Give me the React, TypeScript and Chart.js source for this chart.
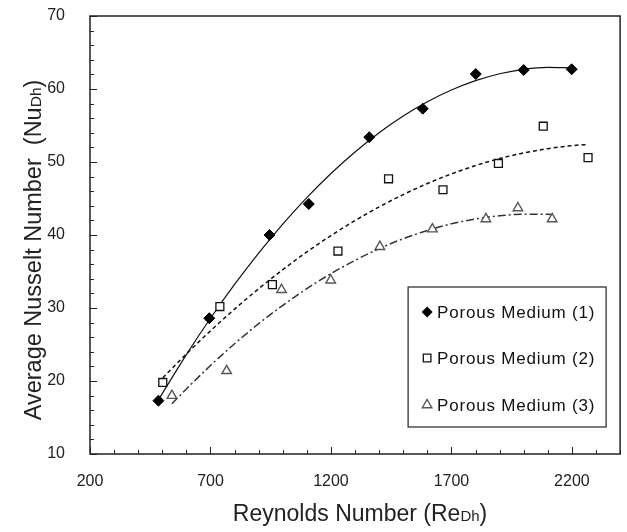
import React, { useEffect, useRef } from "react";
import { Chart, registerables } from "chart.js";

Chart.register(...registerables);

// ---- Data ----
const xTickValues = [200, 700, 1200, 1700, 2200];
const yTickValues = [10, 20, 30, 40, 50, 60, 70];

const seriesNames = ["Porous Medium (1)", "Porous Medium (2)", "Porous Medium (3)"];

const reynolds1 = [484, 695, 945, 1108, 1359, 1581, 1801, 2000, 2199];
const nusselt1 = [17.3, 28.6, 40.0, 44.25, 53.4, 57.3, 62.05, 62.6, 62.7];

const reynolds2 = [502, 739, 957, 1229, 1439, 1665, 1895, 2081, 2267];
const nusselt2 = [19.8, 30.2, 33.2, 37.8, 47.7, 46.2, 49.8, 54.9, 50.6];

const reynolds3 = [540, 767, 995, 1199, 1403, 1621, 1843, 1976, 2118];
const nusselt3 = [18.0, 21.4, 32.5, 33.8, 38.4, 40.8, 42.2, 43.7, 42.2];

// trend curves (as drawn in the reference)
const trend1X = [484, 600, 700, 800, 900, 1000, 1100, 1200, 1300, 1400, 1500, 1600, 1700, 1800, 1900, 2000, 2100, 2199];
const trend1Y = [17.43, 23.62, 28.6, 33.23, 37.53, 41.5, 45.13, 48.43, 51.38, 54.01, 56.3, 58.25, 59.86, 61.14, 62.09, 62.7, 62.97, 62.91];

const trend2X = [502, 600, 700, 800, 900, 1000, 1100, 1200, 1300, 1400, 1500, 1600, 1700, 1800, 1900, 2000, 2100, 2200, 2267];
const trend2Y = [20.44, 23.71, 26.87, 29.85, 32.64, 35.25, 37.68, 39.92, 41.98, 43.85, 45.54, 47.05, 48.37, 49.51, 50.47, 51.24, 51.83, 52.24, 52.4];

const trend3X = [540, 600, 700, 800, 900, 1000, 1100, 1200, 1300, 1400, 1500, 1600, 1700, 1800, 1900, 2000, 2100, 2118];
const trend3Y = [16.87, 18.91, 22.12, 25.1, 27.85, 30.36, 32.65, 34.71, 36.53, 38.13, 39.49, 40.62, 41.53, 42.2, 42.64, 42.85, 42.83, 42.81];

const xMin = 200;
const xMax = 2400;
const xMinorStep = 100;
const yMin = 10;
const yMax = 70;
const yMinorStep = 2;

const FONT = "'Liberation Sans', Arial, sans-serif";

const toPoints = (xs: number[], ys: number[]) => xs.map((x, i) => ({ x, y: ys[i] }));

function drawMarker(ctx: CanvasRenderingContext2D, kind: number, x: number, y: number) {
  ctx.save();
  ctx.beginPath();
  if (kind === 0) {
    const r = 5.5;
    ctx.moveTo(x, y - r);
    ctx.lineTo(x + r, y);
    ctx.lineTo(x, y + r);
    ctx.lineTo(x - r, y);
    ctx.closePath();
    ctx.fillStyle = "#000";
    ctx.fill();
  } else if (kind === 1) {
    const h = 3.8;
    ctx.rect(x - h, y - h, 2 * h, 2 * h);
    ctx.fillStyle = "#fff";
    ctx.fill();
    ctx.strokeStyle = "#111";
    ctx.lineWidth = 1.3;
    ctx.stroke();
  } else {
    const r = 5.5;
    ctx.moveTo(x, y - r);
    ctx.lineTo(x + r * 0.866, y + r * 0.5);
    ctx.lineTo(x - r * 0.866, y + r * 0.5);
    ctx.closePath();
    ctx.fillStyle = "#fff";
    ctx.fill();
    ctx.strokeStyle = "#555";
    ctx.lineWidth = 1.4;
    ctx.stroke();
  }
  ctx.restore();
}

function drawMixed(
  ctx: CanvasRenderingContext2D,
  parts: [string, number][],
  cx: number,
  baseline: number
) {
  let total = 0;
  const widths = parts.map(([t, s]) => {
    ctx.font = `${s}px ${FONT}`;
    const w = ctx.measureText(t).width;
    total += w;
    return w;
  });
  let x = cx - total / 2;
  parts.forEach(([t, s], i) => {
    ctx.font = `${s}px ${FONT}`;
    ctx.fillText(t, x, baseline);
    x += widths[i];
  });
}

const decorPlugin = {
  id: "decor",
  afterDraw(chart: any) {
    const { ctx, chartArea: a, scales } = chart;
    const xs = scales.x;
    const ys = scales.y;
    ctx.save();

    // inward ticks
    ctx.strokeStyle = "#222";
    ctx.lineWidth = 1;
    ctx.beginPath();
    for (let v = xMin; v <= xMax; v += xMinorStep) {
      const px = Math.round(xs.getPixelForValue(v)) + 0.5;
      const len = xTickValues.includes(v) ? 7 : 4;
      ctx.moveTo(px, a.bottom);
      ctx.lineTo(px, a.bottom - len);
    }
    for (let v = yMin; v <= yMax; v += yMinorStep) {
      const py = Math.round(ys.getPixelForValue(v)) + 0.5;
      const len = yTickValues.includes(v) ? 7 : 4;
      ctx.moveTo(a.left, py);
      ctx.lineTo(a.left + len, py);
    }
    ctx.stroke();

    // frame
    ctx.strokeStyle = "#222";
    ctx.lineWidth = 1.5;
    ctx.strokeRect(a.left, a.top, a.right - a.left, a.bottom - a.top);

    // axis titles
    ctx.fillStyle = "#222";
    ctx.textBaseline = "alphabetic";
    ctx.textAlign = "left";
    drawMixed(
      ctx,
      [
        ["Reynolds Number (Re", 23],
        ["Dh", 15],
        [")", 23],
      ],
      (a.left + a.right) / 2 + 5,
      a.bottom + 67
    );
    ctx.save();
    ctx.translate(41, 250);
    ctx.rotate(-Math.PI / 2);
    drawMixed(
      ctx,
      [
        ["Average Nusselt Number  (Nu", 23.5],
        ["Dh", 15.5],
        [")", 23.5],
      ],
      0,
      0
    );
    ctx.restore();

    // legend
    const bw = 198;
    const bh = 140;
    const bx = a.right - 14 - bw;
    const by = a.bottom - 27 - bh;
    ctx.fillStyle = "#fff";
    ctx.fillRect(bx, by, bw, bh);
    ctx.strokeStyle = "#222";
    ctx.lineWidth = 1.2;
    ctx.strokeRect(bx, by, bw, bh);
    const rows = [25, 71, 118];
    ctx.font = `17px ${FONT}`;
    (ctx as any).letterSpacing = "0.8px";
    ctx.textBaseline = "middle";
    seriesNames.forEach((name, i) => {
      drawMarker(ctx, i, bx + 19, by + rows[i]);
      ctx.fillStyle = "#111";
      ctx.font = `17px ${FONT}`;
      ctx.fillText(name, bx + 29, by + rows[i] + 1);
    });
    (ctx as any).letterSpacing = "0px";
    ctx.restore();
  },
};

export default function App() {
  const canvasRef = useRef<HTMLCanvasElement | null>(null);

  useEffect(() => {
    if (!canvasRef.current) return;
    const chart = new Chart(canvasRef.current, {
      type: "scatter",
      data: {
        datasets: [
          {
            label: seriesNames[0],
            data: toPoints(reynolds1, nusselt1),
            pointStyle: "rectRot",
            pointRadius: 5.5,
            backgroundColor: "#000",
            borderColor: "#000",
            borderWidth: 1,
            showLine: false,
          },
          {
            label: seriesNames[1],
            data: toPoints(reynolds2, nusselt2),
            pointStyle: "rect",
            pointRadius: 5.6,
            backgroundColor: "#fff",
            borderColor: "#111",
            borderWidth: 1.3,
            showLine: false,
          },
          {
            label: seriesNames[2],
            data: toPoints(reynolds3, nusselt3),
            pointStyle: "triangle",
            pointRadius: 5.5,
            backgroundColor: "#fff",
            borderColor: "#555",
            borderWidth: 1.4,
            showLine: false,
          },
          {
            label: "trend1",
            data: toPoints(trend1X, trend1Y),
            showLine: true,
            pointRadius: 0,
            borderColor: "#111",
            borderWidth: 1.2,
            cubicInterpolationMode: "monotone",
          },
          {
            label: "trend2",
            data: toPoints(trend2X, trend2Y),
            showLine: true,
            pointRadius: 0,
            borderColor: "#111",
            borderWidth: 1.5,
            borderDash: [4, 3],
            cubicInterpolationMode: "monotone",
          },
          {
            label: "trend3",
            data: toPoints(trend3X, trend3Y),
            showLine: true,
            pointRadius: 0,
            borderColor: "#333",
            borderWidth: 1.5,
            borderDash: [8, 3, 2, 3],
            cubicInterpolationMode: "monotone",
          },
        ],
      } as any,
      options: {
        animation: false,
        responsive: false,
        layout: { padding: { top: 16, right: 2, left: 0, bottom: 0 } },
        plugins: {
          legend: { display: false },
          tooltip: { enabled: false },
        },
        scales: {
          x: {
            type: "linear",
            min: xMin,
            max: xMax,
            afterBuildTicks: (s: any) => {
              s.ticks = xTickValues.map((v) => ({ value: v }));
            },
            afterFit: (s: any) => {
              s.height = 78;
              s.paddingLeft = 0;
              s.paddingRight = 0;
            },
            ticks: {
              autoSkip: false,
              maxRotation: 0,
              padding: 0,
              color: "#222",
              font: { family: FONT, size: 16 },
              callback: (v: any) => String(v),
            },
            grid: { display: false, drawTicks: true, tickLength: 18 },
            border: { display: false },
          },
          y: {
            type: "linear",
            min: yMin,
            max: yMax,
            afterBuildTicks: (s: any) => {
              s.ticks = yTickValues.map((v) => ({ value: v }));
            },
            afterFit: (s: any) => {
              s.width = 90;
            },
            ticks: {
              padding: 0,
              color: "#222",
              font: { family: FONT, size: 16 },
              callback: (v: any) => String(v),
            },
            grid: { display: false, drawTicks: true, tickLength: 25 },
            border: { display: false },
          },
        },
      } as any,
      plugins: [decorPlugin],
    });
    return () => chart.destroy();
  }, []);

  return (
    <div style={{ position: "fixed", left: 0, top: 0, width: 627, height: 532, background: "#fff" }}>
      <canvas ref={canvasRef} width={627} height={532} style={{ display: "block" }} />
    </div>
  );
}
